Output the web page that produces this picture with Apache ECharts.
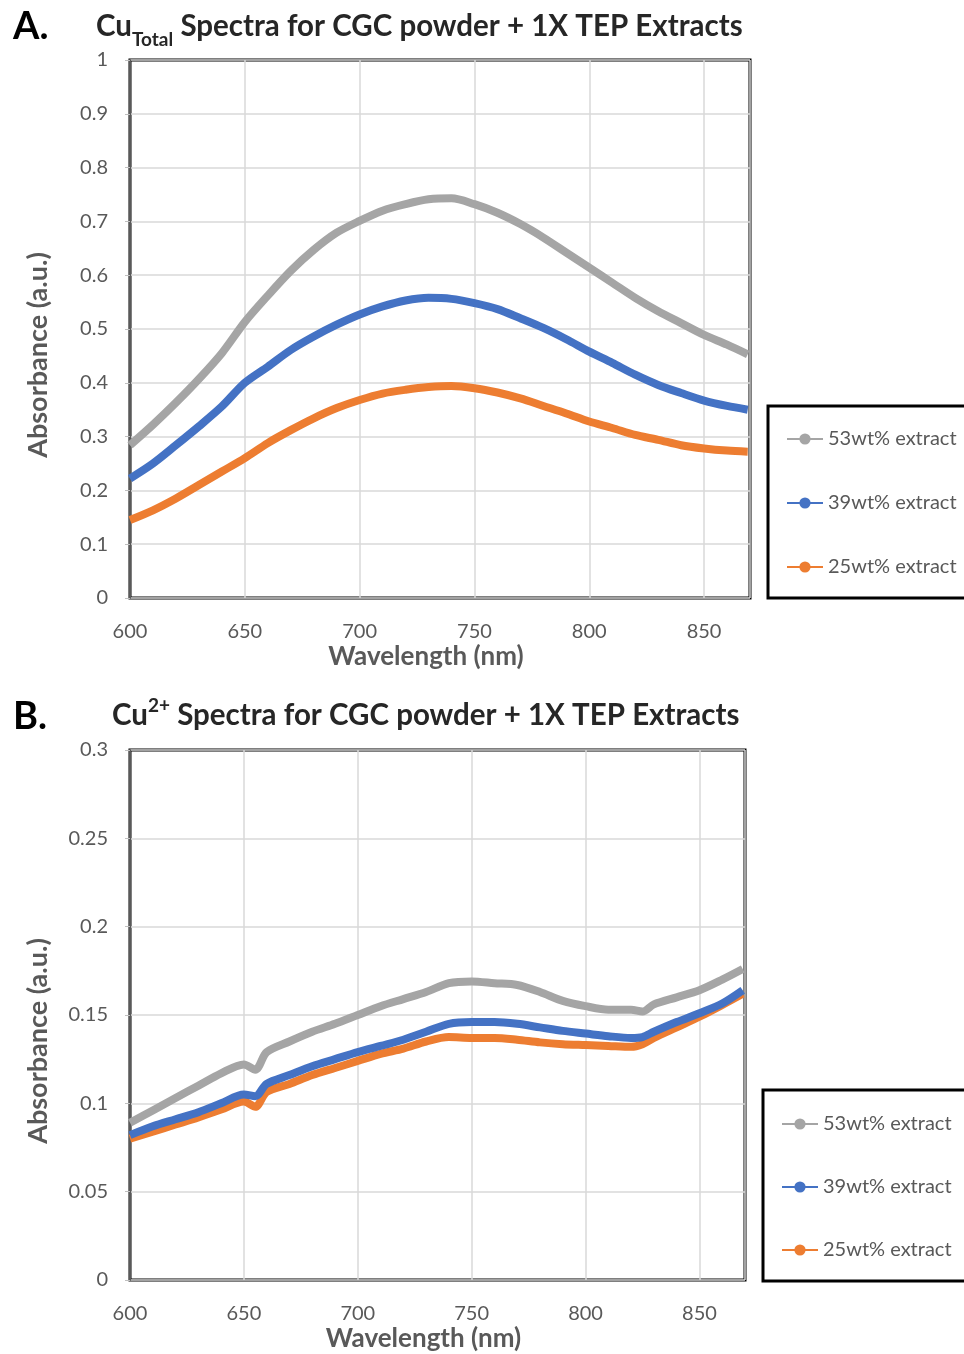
<!DOCTYPE html>
<html>
<head>
<meta charset="utf-8">
<script src="https://cdn.jsdelivr.net/npm/echarts@6/dist/echarts.min.js"></script>
<style>
  html, body { margin: 0; padding: 0; background: #fff; }
  #chart { width: 964px; height: 1354px; }
</style>
</head>
<body>
<div id="chart"></div>
<script>
// panel A: Cu total spectra
var wlA = [600, 610, 620, 630, 640, 650, 660, 670, 680, 690, 700, 710, 720, 730,
  740, 750, 760, 770, 780, 790, 800, 810, 820, 830, 840, 850, 860, 869];
var grayA = [0.284, 0.322, 0.363, 0.407, 0.455, 0.513, 0.562, 0.608, 0.647, 0.679, 0.701, 0.72, 0.732, 0.741,
  0.743, 0.732, 0.716, 0.695, 0.67, 0.642, 0.614, 0.586, 0.558, 0.533, 0.511, 0.489, 0.471, 0.453];
var blueA = [0.222, 0.25, 0.284, 0.319, 0.356, 0.4, 0.43, 0.461, 0.486, 0.508, 0.527, 0.542, 0.553, 0.558,
  0.556, 0.548, 0.537, 0.52, 0.502, 0.481, 0.458, 0.437, 0.415, 0.396, 0.381, 0.367, 0.357, 0.35];
var orangeA = [0.145, 0.163, 0.185, 0.21, 0.235, 0.26, 0.288, 0.312, 0.334, 0.353, 0.368, 0.38, 0.387, 0.392,
  0.394, 0.39, 0.382, 0.371, 0.357, 0.343, 0.328, 0.316, 0.303, 0.294, 0.284, 0.278, 0.274, 0.272];

// panel B: Cu2+ spectra
var wlB = [600, 610, 620, 630, 640, 650, 655, 660, 670, 680, 690, 700, 710, 720, 730, 740, 750,
  760, 770, 780, 790, 800, 810, 820, 825, 830, 840, 850, 860, 869];
var grayB = [0.089, 0.096, 0.103, 0.11, 0.117, 0.122, 0.119, 0.129, 0.135, 0.1405, 0.145, 0.15, 0.155, 0.159,
  0.163, 0.168, 0.169, 0.168, 0.167, 0.163, 0.158, 0.155, 0.153, 0.153, 0.152, 0.156, 0.16, 0.164, 0.17, 0.176];
var blueB = [0.082, 0.087, 0.091, 0.095, 0.1, 0.105, 0.104, 0.111, 0.116, 0.121, 0.125, 0.129, 0.1325, 0.136,
  0.1405, 0.145, 0.146, 0.146, 0.145, 0.143, 0.141, 0.1395, 0.138, 0.137, 0.1375, 0.1405, 0.146, 0.151, 0.1565, 0.164];
var orangeB = [0.08, 0.084, 0.088, 0.092, 0.0965, 0.101, 0.098, 0.1065, 0.111, 0.116, 0.12, 0.124, 0.128, 0.131,
  0.135, 0.1375, 0.137, 0.137, 0.136, 0.1345, 0.1335, 0.133, 0.1325, 0.132, 0.1335, 0.137, 0.143, 0.149, 0.1557, 0.162];

var seriesNames = ['53wt% extract', '39wt% extract', '25wt% extract'];
var seriesColors = ['#A5A5A5', '#4472C4', '#ED7D31'];

var FONT = 'Lato';
var LABEL = '#595959';

function pairs (wl, vals) {
  return wl.map(function (w, i) { return [w, vals[i]]; });
}

function makeSeries (idx, wl, lists) {
  return lists.map(function (vals, k) {
    return {
      name: seriesNames[k],
      type: 'line',
      xAxisIndex: idx,
      yAxisIndex: idx,
      data: pairs(wl, vals),
      smooth: 0.3,
      symbol: 'circle',
      symbolSize: 9,
      showSymbol: false,
      z: 10 - k,
      itemStyle: { color: seriesColors[k] },
      lineStyle: { color: seriesColors[k], width: 8 }
    };
  });
}

function xAxisCfg (idx) {
  return {
    type: 'value',
    gridIndex: idx,
    min: 600,
    max: 870,
    interval: 50,
    name: 'Wavelength (nm)',
    nameLocation: 'middle',
    nameGap: 46,
    nameTextStyle: { fontFamily: FONT, fontWeight: 'bold', fontSize: 26, color: LABEL, padding: [0, 28, 0, 0] },
    axisLine: { show: false },
    axisTick: { show: false },
    axisLabel: { showMaxLabel: false, margin: 24, fontFamily: FONT, fontSize: 20, color: LABEL },
    splitLine: { show: true, lineStyle: { color: '#d9d9d9', width: 1.5 } }
  };
}

function yAxisCfg (idx, max, interval) {
  return {
    type: 'value',
    gridIndex: idx,
    min: 0,
    max: max,
    interval: interval,
    name: 'Absorbance (a.u.)',
    nameLocation: 'middle',
    nameGap: 78,
    nameTextStyle: { fontFamily: FONT, fontWeight: 'bold', fontSize: 27, color: LABEL, padding: [0, 52, 0, 0] },
    axisLine: { show: true, lineStyle: { color: '#595959', width: 2 } },
    axisTick: { show: true, length: 5, lineStyle: { color: '#bfbfbf' } },
    axisLabel: { margin: 22, fontFamily: FONT, fontSize: 20, color: LABEL },
    splitLine: { show: true, lineStyle: { color: '#d9d9d9', width: 1.5 } }
  };
}

function legendCfg (top, left, gap, padTop) {
  return {
    orient: 'vertical',
    left: left,
    top: top,
    data: seriesNames,
    itemWidth: 36,
    itemHeight: 14,
    itemGap: gap,
    padding: [padTop, 40, 21, 18],
    borderColor: '#000',
    borderWidth: 3,
    textStyle: { fontFamily: FONT, fontSize: 20, color: LABEL }
  };
}

var titleRich = {
  a: { fontFamily: FONT, fontWeight: 'bold', fontSize: 29.5, color: '#262626' },
  sub: { fontFamily: FONT, fontWeight: 'bold', fontSize: 19, color: '#262626', verticalAlign: 'bottom', padding: [0, 0, -8, 0] },
  sup: { fontFamily: FONT, fontWeight: 'bold', fontSize: 19, color: '#262626', verticalAlign: 'top', padding: [-4, 0, 0, 0] }
};

var option = {
  backgroundColor: '#fff',
  animation: false,
  title: [
    { text: 'A.', left: 8, top: 3, textStyle: { fontFamily: FONT, fontWeight: 'bold', fontSize: 38, color: '#000' } },
    { text: '{a|Cu}{sub|Total}{a| Spectra for CGC powder + 1X TEP Extracts}', left: 91, top: 6,
      textStyle: { rich: titleRich } },
    { text: 'B.', left: 8, top: 693, textStyle: { fontFamily: FONT, fontWeight: 'bold', fontSize: 38, color: '#000' } },
    { text: '{a|Cu}{sup|2+}{a| Spectra for CGC powder + 1X TEP Extracts}', left: 107, top: 695,
      textStyle: { rich: titleRich } }
  ],
  legend: [legendCfg(406, 768, 44, 23), legendCfg(1090, 763, 43, 24)],
  grid: [
    { left: 130, top: 60, width: 620, height: 538, show: true, borderColor: '#000', borderWidth: 3 },
    { left: 130, top: 750, width: 615, height: 530, show: true, borderColor: '#000', borderWidth: 3 }
  ],
  xAxis: [xAxisCfg(0), xAxisCfg(1)],
  yAxis: [yAxisCfg(0, 1, 0.1), yAxisCfg(1, 0.3, 0.05)],
  series: []
    .concat(makeSeries(0, wlA, [grayA, blueA, orangeA]))
    .concat(makeSeries(1, wlB, [grayB, blueB, orangeB]))
};

var chart = echarts.init(document.getElementById('chart'));
chart.setOption(option);
</script>
</body>
</html>
